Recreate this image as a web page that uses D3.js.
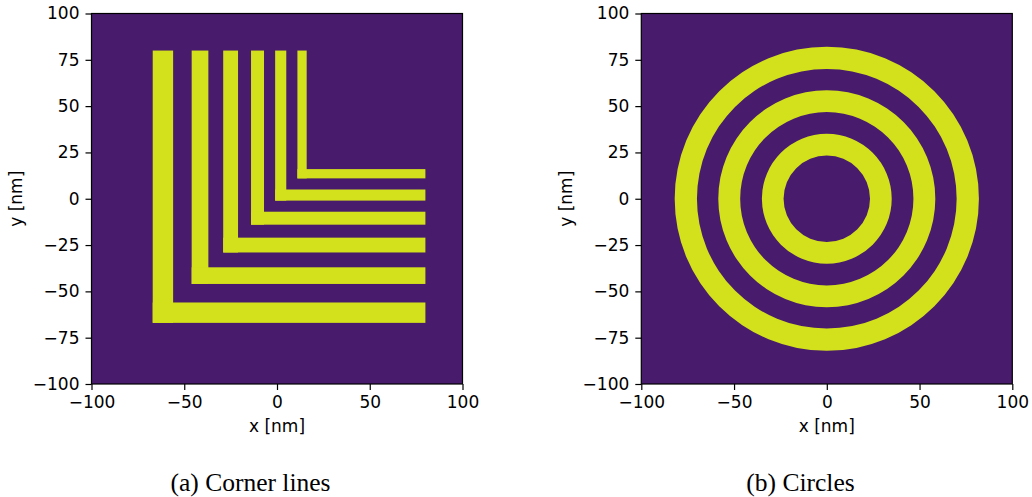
<!DOCTYPE html>
<html><head><meta charset="utf-8">
<script src="https://cdn.jsdelivr.net/npm/d3@7"></script>
<style>
body{margin:0;background:#fff;}
svg{display:block;}
.tick text{font-family:"DejaVu Sans",sans-serif;font-size:17px;fill:#000;}
</style></head>
<body>
<svg id="chart" width="1032" height="497"></svg>
<script>
// ---- data ----
const xTicks = [-100, -50, 0, 50, 100];
const yTicks = [-100, -75, -50, -25, 0, 25, 50, 75, 100];
// corner lines: each L has a band [lo, hi]; vertical arm runs up to lineEnd, horizontal arm runs right to lineEnd
const lineLo = [-67, -46, -29, -14, -1, 11];
const lineHi = [-56, -37, -21, -7, 5, 16];
const lineEnd = 80;
// circles: concentric rings centered at origin
const ringOuter = [82, 58.5, 35];
const ringInner = [70, 46.7, 23.3];
const captions = ["(a) Corner lines", "(b) Circles"];

const bg = "#481b6d", fg = "#d2e11b";
const svg = d3.select("#chart");

function panel(left, captionX, caption, drawFn) {
  const x = d3.scaleLinear().domain([-100, 100]).range([left, left + 371]);
  const y = d3.scaleLinear().domain([-100, 100]).range([384, 13.5]);
  const g = svg.append("g");
  g.append("rect").attr("x", x(-100)).attr("y", y(100))
    .attr("width", x(100) - x(-100)).attr("height", y(-100) - y(100)).attr("fill", bg);
  drawFn(g, x, y);
  // frame
  g.append("rect").attr("x", x(-100)).attr("y", y(100))
    .attr("width", x(100) - x(-100)).attr("height", y(-100) - y(100))
    .attr("fill", "none").attr("stroke", "#000").attr("stroke-width", 1.2);
  const ax = g.append("g").attr("transform", `translate(0,${y(-100)})`)
    .call(d3.axisBottom(x).tickValues(xTicks).tickSize(6).tickPadding(6));
  const ay = g.append("g").attr("transform", `translate(${x(-100)},0)`)
    .call(d3.axisLeft(y).tickValues(yTicks).tickSize(6).tickPadding(6));
  [ax, ay].forEach(a => { a.select(".domain").remove(); a.selectAll("line").attr("stroke", "#000").attr("stroke-width", 1.2); });
  g.append("text").attr("x", x(0)).attr("y", 432).attr("text-anchor", "middle")
    .style("font-family", "DejaVu Sans").style("font-size", "17px").text("x [nm]");
  g.append("text").attr("transform", `translate(${left - 69.5},${y(0)}) rotate(-90)`)
    .attr("text-anchor", "middle").style("font-family", "DejaVu Sans").style("font-size", "17px").text("y [nm]");
  g.append("text").attr("x", captionX).attr("y", 491).attr("text-anchor", "middle")
    .style("font-family", "Liberation Serif, serif").style("font-size", "25.5px").text(caption);
}

panel(91.5, 250.5, captions[0], (g, x, y) => {
  const data = lineLo.map((lo, i) => ({ lo, hi: lineHi[i] }));
  g.selectAll(".v").data(data).join("rect")
    .attr("x", d => x(d.lo)).attr("y", y(lineEnd))
    .attr("width", d => x(d.hi) - x(d.lo)).attr("height", d => y(d.lo) - y(lineEnd))
    .attr("fill", fg);
  g.selectAll(".h").data(data).join("rect")
    .attr("x", d => x(d.lo)).attr("y", d => y(d.hi))
    .attr("width", d => x(lineEnd) - x(d.lo)).attr("height", d => y(d.lo) - y(d.hi))
    .attr("fill", fg);
});

panel(641.3, 800.5, captions[1], (g, x, y) => {
  const data = ringOuter.map((o, i) => ({ o, i: ringInner[i] }));
  const k = x(1) - x(0);
  const arc = d3.arc().startAngle(0).endAngle(2 * Math.PI);
  g.selectAll(".ring").data(data).join("path")
    .attr("transform", `translate(${x(0)},${y(0)})`)
    .attr("d", d => arc({ innerRadius: d.i * k, outerRadius: d.o * k }))
    .attr("fill", fg);
});
</script>
</body></html>
